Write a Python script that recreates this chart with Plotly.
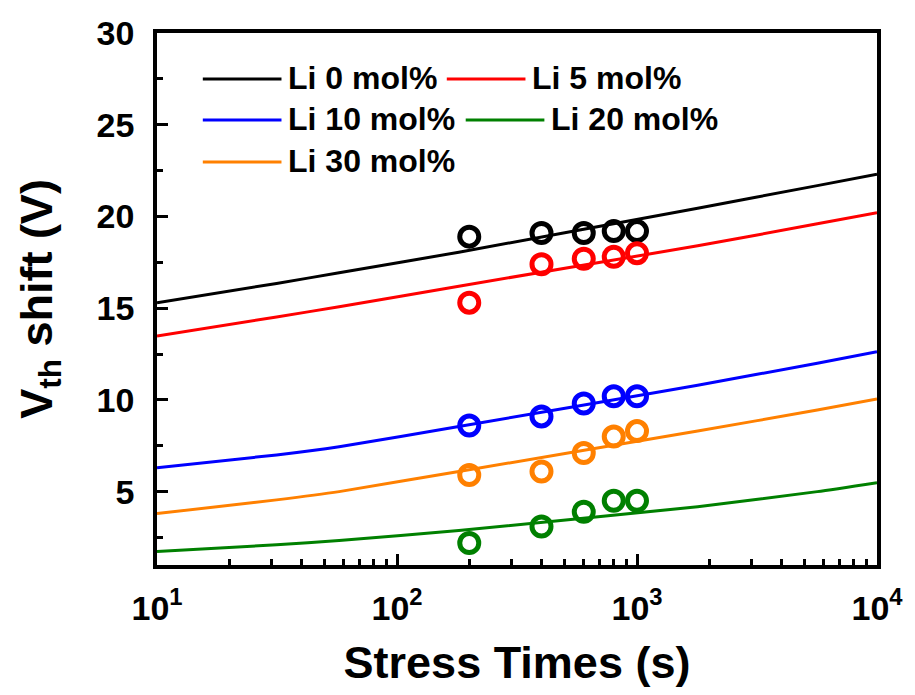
import plotly.graph_objects as go

# Threshold-voltage shift under bias stress for Li-doped films
series_names = ["Li 0 mol%", "Li 5 mol%", "Li 10 mol%", "Li 20 mol%", "Li 30 mol%"]
series_colors = ["#000000", "#FF0000", "#0000FF", "#008000", "#FF8000"]

# measured points
stress_time = [200, 400, 600, 800, 1000]
vth_li0 = [18.9, 19.1, 19.1, 19.2, 19.2]
vth_li5 = [15.3, 17.4, 17.7, 17.8, 18.0]
vth_li10 = [8.6, 9.1, 9.8, 10.2, 10.2]
vth_li20 = [2.2, 3.1, 3.9, 4.5, 4.5]
vth_li30 = [5.9, 6.1, 7.1, 8.0, 8.3]

# fitted curves, sampled along the time axis
fit_time = [10, 31.5, 57.4, 181, 1790, 5640, 10000]
fit_li0 = [15.3, 16.35, 16.93, 18.05, 20.45, 21.68, 22.3]
fit_li5 = [13.48, 14.52, 15.08, 16.2, 18.4, 19.6, 20.2]
fit_li10 = [6.3, 7.0, 7.45, 8.55, 10.8, 12.0, 12.62]
fit_li20 = [1.74, 2.1, 2.33, 2.88, 4.18, 5.0, 5.49]
fit_li30 = [3.8, 4.55, 5.0, 6.1, 8.3, 9.45, 10.05]

x_tickvals = [10, 100, 1000, 10000]
x_ticktext = ["10<sup>1</sup>", "10<sup>2</sup>", "10<sup>3</sup>", "10<sup>4</sup>"]
y_tickvals = [5, 10, 15, 20, 25, 30]

measured = [vth_li0, vth_li5, vth_li10, vth_li20, vth_li30]
fitted = [fit_li0, fit_li5, fit_li10, fit_li20, fit_li30]

FONT = "Liberation Sans, Arial, sans-serif"

fig = go.Figure()
for name, color, ys, fs in zip(series_names, series_colors, measured, fitted):
    fig.add_trace(go.Scatter(
        x=fit_time, y=fs, mode="lines", name=name,
        line=dict(color=color, width=3, shape="spline", smoothing=0.5),
        showlegend=False, hoverinfo="skip",
    ))
    fig.add_trace(go.Scatter(
        x=stress_time, y=ys, mode="markers", name=name,
        marker=dict(symbol="circle-open", size=19, color=color,
                    line=dict(color=color, width=5)),
        showlegend=False,
    ))

# plot-area geometry in pixels (used for the hand-placed legend)
W, H = 915, 695
ML, MR, MT, MB = 157, 35, 33, 130
PW, PH = W - ML - MR, H - MT - MB


def px_to_paper(px, py):
    return (px - ML) / PW, (H - MB - py) / PH


# legend: three rows, entries flowing left to right
legend_rows = [
    [(0, 203), (1, 448)],
    [(2, 203), (3, 467)],
    [(4, 203)],
]
row_y = [79, 120, 162]
shapes, annotations = [], []
for row, py in zip(legend_rows, row_y):
    for idx, lx in row:
        x0, y0 = px_to_paper(lx, py)
        x1, _ = px_to_paper(lx + 79, py)
        shapes.append(dict(type="line", xref="paper", yref="paper",
                           x0=x0, x1=x1, y0=y0, y1=y0,
                           line=dict(color=series_colors[idx], width=3)))
        tx, ty = px_to_paper(lx + 84, py - 1)
        annotations.append(dict(xref="paper", yref="paper", x=tx, y=ty,
                                xanchor="left", yanchor="middle", showarrow=False,
                                text=series_names[idx],
                                font=dict(family=FONT, size=32, color="#000000", weight="bold")))

axis_common = dict(
    showline=True, linecolor="#000000", linewidth=3.5, mirror=True,
    ticks="inside", ticklen=11, tickwidth=3, tickcolor="#000000",
    showgrid=False, zeroline=False,
    tickfont=dict(family=FONT, size=34, color="#000000", weight="bold"),
)

fig.update_layout(
    width=W, height=H,
    margin=dict(l=ML, r=MR, t=MT, b=MB, pad=0),
    paper_bgcolor="white", plot_bgcolor="white",
    shapes=shapes, annotations=annotations,
    xaxis=dict(
        type="log", range=[1, 4],
        tickvals=x_tickvals, ticktext=x_ticktext,
        minor=dict(ticks="inside", ticklen=6, tickwidth=2.5, tickcolor="#000000",
                   dtick="D1", showgrid=False),
        title=dict(text="Stress Times (s)", standoff=22,
                   font=dict(family=FONT, size=45, color="#000000", weight="bold")),
        ticklabelstandoff=10,
        **axis_common,
    ),
    yaxis=dict(
        range=[1, 30],
        tickvals=y_tickvals,
        minor=dict(ticks="inside", ticklen=6, tickwidth=2.5, tickcolor="#000000",
                   tick0=2.5, dtick=5, showgrid=False),
        title=dict(text="V<sub>th</sub> shift (V)", standoff=31,
                   font=dict(family=FONT, size=45, color="#000000", weight="bold")),
        ticklabelstandoff=12,
        **axis_common,
    ),
)

fig.write_html("out.html")
